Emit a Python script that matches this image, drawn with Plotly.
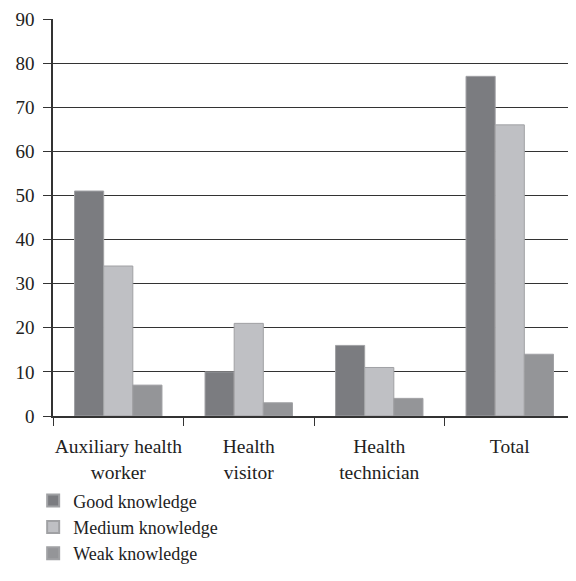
import plotly.graph_objects as go

categories = ["Auxiliary health<br>worker", "Health<br>visitor", "Health<br>technician", "Total"]
good = [51, 10, 16, 77]
medium = [34, 21, 11, 66]
weak = [7, 3, 4, 14]
series_names = ["Good knowledge", "Medium knowledge", "Weak knowledge"]
colors = ["#7b7c80", "#bfc0c4", "#949598"]

fig = go.Figure()
for name, vals, col in zip(series_names, [good, medium, weak], colors):
    fig.add_trace(go.Bar(
        x=categories, y=vals, name=name,
        marker=dict(color=col, line=dict(color="#a0a1a4", width=1)),
    ))

font_family = "Liberation Serif, DejaVu Serif, serif"
fig.update_layout(
    width=568, height=565,
    margin=dict(l=45, r=1, t=11, b=157),
    paper_bgcolor="white", plot_bgcolor="white",
    barmode="group", bargap=0.33, bargroupgap=0,
    font=dict(family=font_family, size=20, color="#222"),
    showlegend=True,
    legend=dict(
        orientation="v", x=-0.038, y=-0.167, xanchor="left", yanchor="top",
        font=dict(family=font_family, size=18, color="#222"),
        tracegroupgap=0, itemsizing="constant",
    ),
    xaxis=dict(
        type="category", tickson="boundaries", ticks="outside", ticklen=8,
        tickcolor="#333", showline=True, linecolor="#333", linewidth=1.5,
        showgrid=False, tickfont=dict(size=19.5), ticklabelstandoff=12,
        tickangle=0, automargin=False,
    ),
    yaxis=dict(
        range=[0, 90], dtick=10, ticks="outside", ticklen=8, tickcolor="#333",
        showline=True, linecolor="#333", linewidth=1.5, mirror=True,
        showgrid=True, gridcolor="#333", gridwidth=1, zeroline=False,
        tickfont=dict(size=19), ticklabelstandoff=5, ticklabeloverflow="allow",
        automargin=False,
    ),
)
fig.write_html("out.html")
